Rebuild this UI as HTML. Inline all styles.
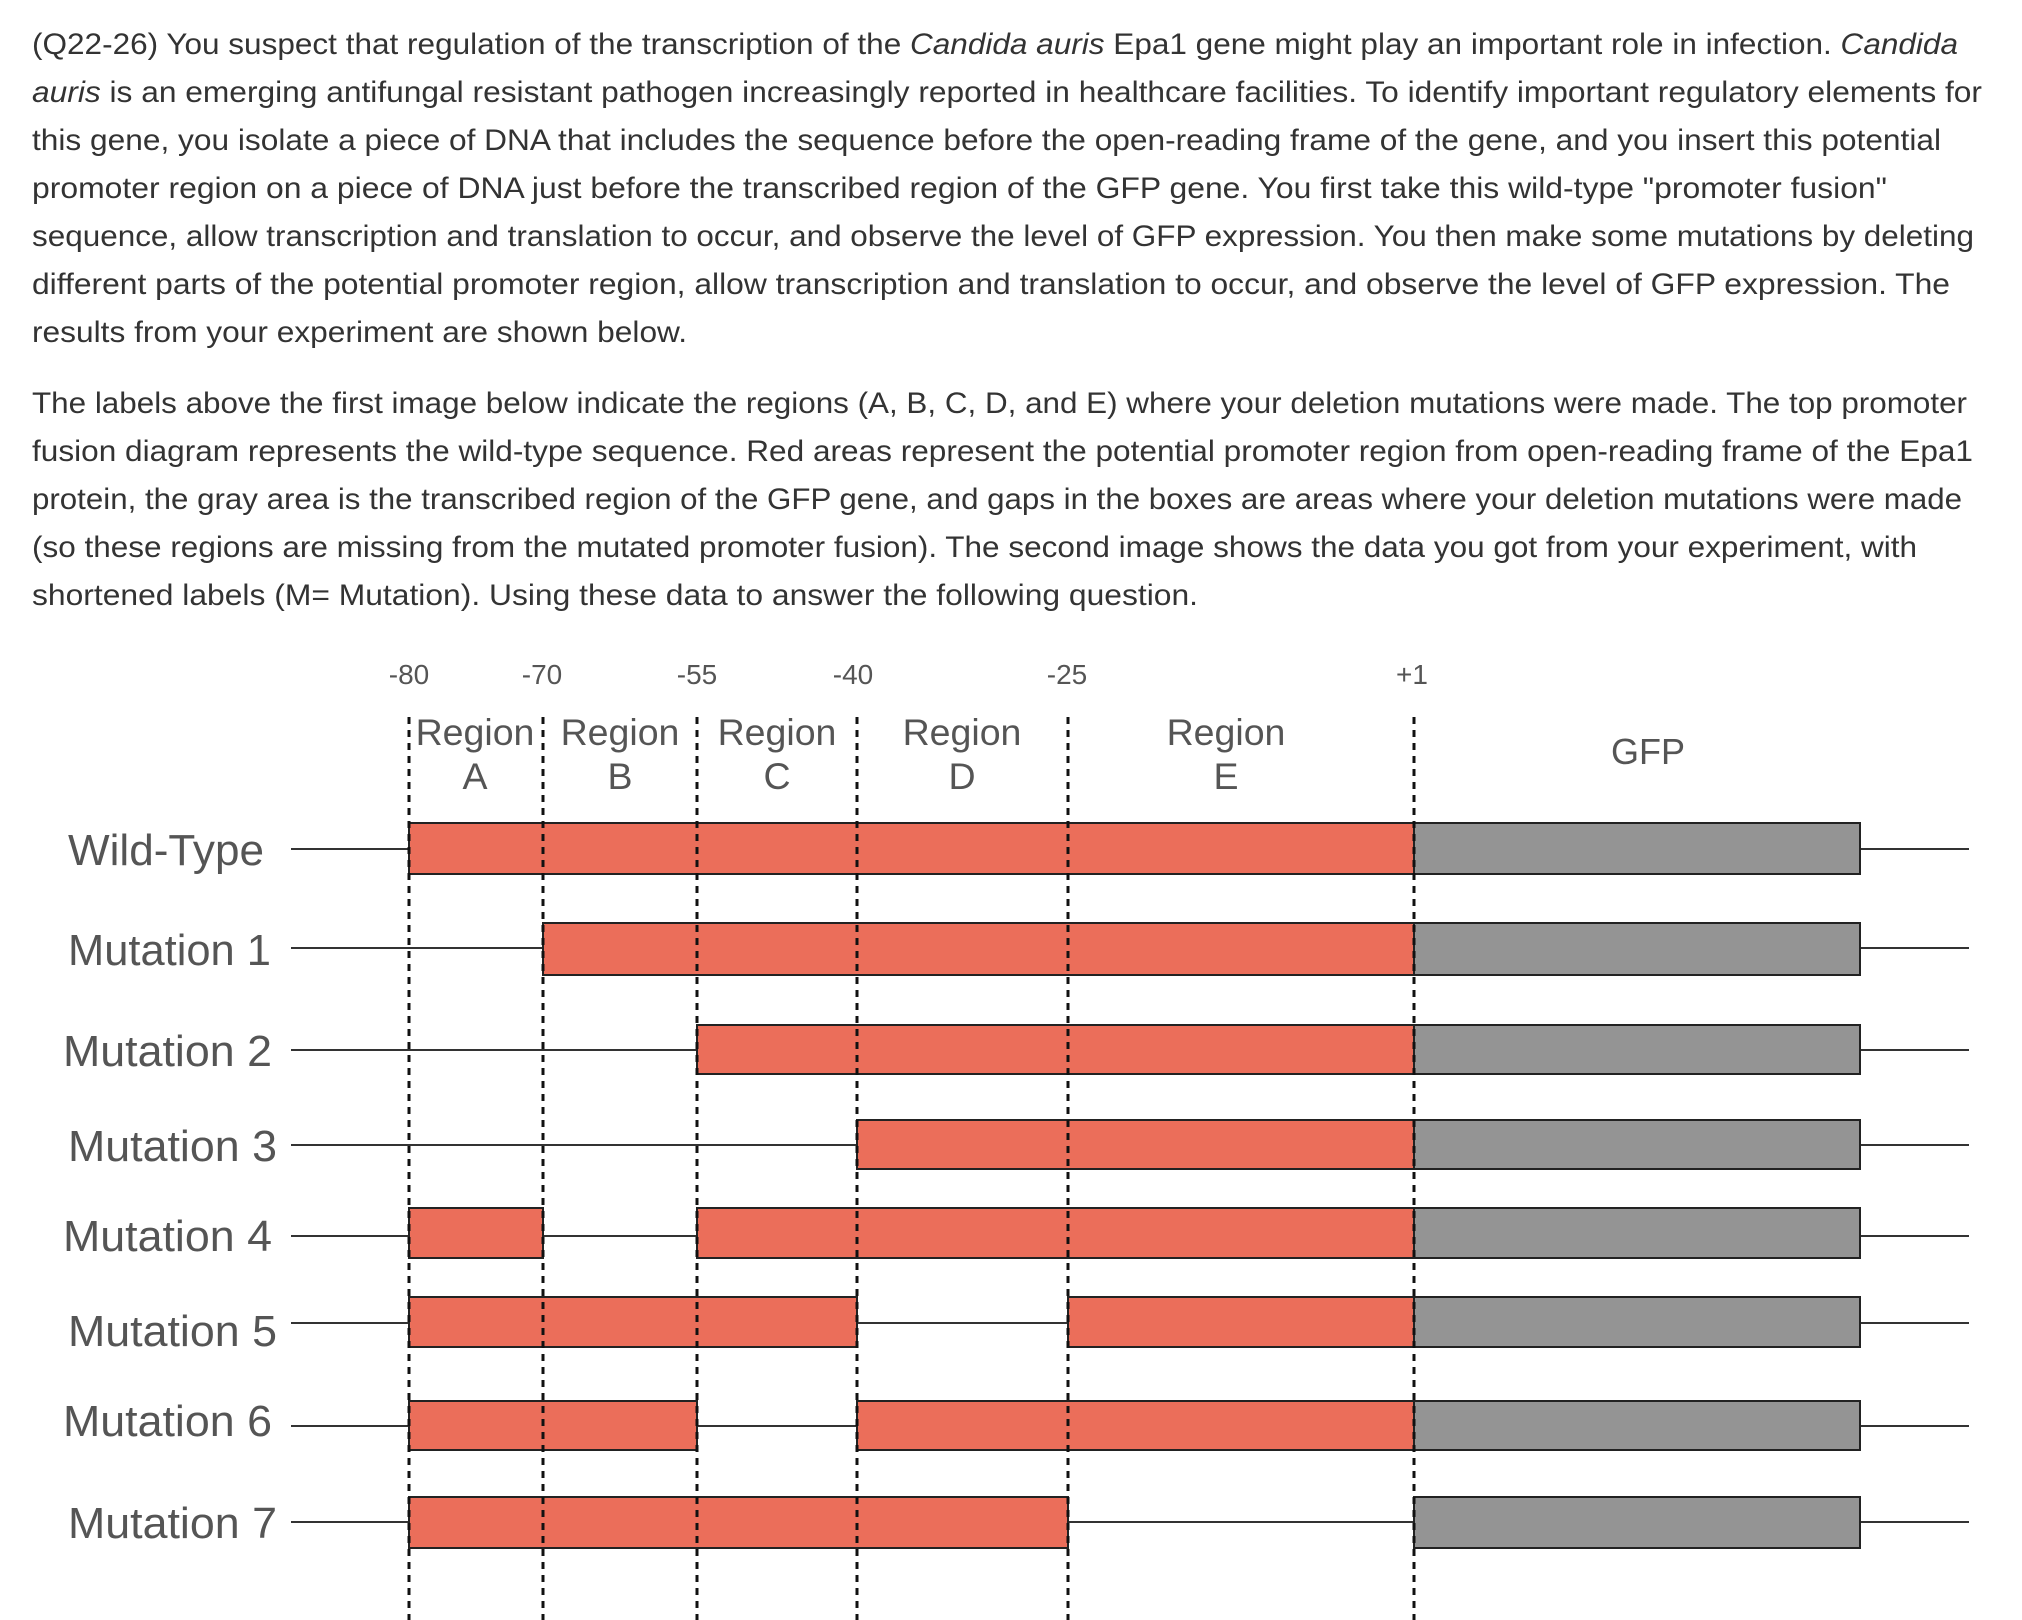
<!DOCTYPE html>
<html>
<head>
<meta charset="utf-8">
<style>
  html,body{margin:0;padding:0;background:#fff;}
  svg{display:block;}
  .p{font-family:"Liberation Sans",Arial,sans-serif;font-size:30px;fill:#333;}
  .d{font-family:"Liberation Sans",Arial,sans-serif;fill:#555;}
</style>
</head>
<body>
<svg width="2022" height="1620" viewBox="0 0 2022 1620" xmlns="http://www.w3.org/2000/svg">
  <rect width="2022" height="1620" fill="#fff"/>
  <!-- Paragraph 1 -->
  <text class="p" x="32" y="54" textLength="1926" lengthAdjust="spacingAndGlyphs">(Q22-26) You suspect that regulation of the transcription of the <tspan font-style="italic">Candida auris</tspan> Epa1 gene might play an important role in infection. <tspan font-style="italic">Candida</tspan></text>
  <text class="p" x="32" y="102" textLength="1950" lengthAdjust="spacingAndGlyphs"><tspan font-style="italic">auris</tspan> is an emerging antifungal resistant pathogen increasingly reported in healthcare facilities. To identify important regulatory elements for</text>
  <text class="p" x="32" y="150" textLength="1909" lengthAdjust="spacingAndGlyphs">this gene, you isolate a piece of DNA that includes the sequence before the open-reading frame of the gene, and you insert this potential</text>
  <text class="p" x="32" y="198" textLength="1855" lengthAdjust="spacingAndGlyphs">promoter region on a piece of DNA just before the transcribed region of the GFP gene. You first take this wild-type "promoter fusion"</text>
  <text class="p" x="32" y="246" textLength="1942" lengthAdjust="spacingAndGlyphs">sequence, allow transcription and translation to occur, and observe the level of GFP expression. You then make some mutations by deleting</text>
  <text class="p" x="32" y="294" textLength="1918" lengthAdjust="spacingAndGlyphs">different parts of the potential promoter region, allow transcription and translation to occur, and observe the level of GFP expression. The</text>
  <text class="p" x="32" y="342" textLength="655" lengthAdjust="spacingAndGlyphs">results from your experiment are shown below.</text>

  <!-- Paragraph 2 -->
  <text class="p" x="32" y="413" textLength="1935" lengthAdjust="spacingAndGlyphs">The labels above the first image below indicate the regions (A, B, C, D, and E) where your deletion mutations were made. The top promoter</text>
  <text class="p" x="32" y="461" textLength="1941" lengthAdjust="spacingAndGlyphs">fusion diagram represents the wild-type sequence. Red areas represent the potential promoter region from open-reading frame of the Epa1</text>
  <text class="p" x="32" y="509" textLength="1930" lengthAdjust="spacingAndGlyphs">protein, the gray area is the transcribed region of the GFP gene, and gaps in the boxes are areas where your deletion mutations were made</text>
  <text class="p" x="32" y="557" textLength="1885" lengthAdjust="spacingAndGlyphs">(so these regions are missing from the mutated promoter fusion). The second image shows the data you got from your experiment, with</text>
  <text class="p" x="32" y="605" textLength="1166" lengthAdjust="spacingAndGlyphs">shortened labels (M= Mutation). Using these data to answer the following question.</text>

  <!-- Tick labels -->
  <g class="d" font-size="28" text-anchor="middle">
    <text x="409" y="684">-80</text>
    <text x="542" y="684">-70</text>
    <text x="697" y="684">-55</text>
    <text x="853" y="684">-40</text>
    <text x="1067" y="684">-25</text>
    <text x="1412" y="684">+1</text>
  </g>

  <!-- Region labels -->
  <g class="d" font-size="37.5" text-anchor="middle">
    <text x="475" y="745">Region</text><text x="475" y="789">A</text>
    <text x="620" y="745">Region</text><text x="620" y="789">B</text>
    <text x="777" y="745">Region</text><text x="777" y="789">C</text>
    <text x="962" y="745">Region</text><text x="962" y="789">D</text>
    <text x="1226" y="745">Region</text><text x="1226" y="789">E</text>
  </g>
  <text class="d" font-size="36" text-anchor="middle" x="1648" y="764">GFP</text>

  <!-- Row labels -->
  <g class="d" font-size="44">
    <text x="68" y="865" textLength="196" lengthAdjust="spacingAndGlyphs">Wild-Type</text>
    <text x="68" y="965" textLength="203" lengthAdjust="spacingAndGlyphs">Mutation 1</text>
    <text x="63" y="1066" textLength="209" lengthAdjust="spacingAndGlyphs">Mutation 2</text>
    <text x="68" y="1161" textLength="209" lengthAdjust="spacingAndGlyphs">Mutation 3</text>
    <text x="63" y="1251" textLength="209" lengthAdjust="spacingAndGlyphs">Mutation 4</text>
    <text x="68" y="1346" textLength="209" lengthAdjust="spacingAndGlyphs">Mutation 5</text>
    <text x="63" y="1436" textLength="209" lengthAdjust="spacingAndGlyphs">Mutation 6</text>
    <text x="68" y="1538" textLength="209" lengthAdjust="spacingAndGlyphs">Mutation 7</text>
  </g>

  <!-- Horizontal DNA lines -->
  <g stroke="#333" stroke-width="2">
    <line x1="291" y1="849" x2="1969" y2="849"/>
    <line x1="291" y1="948" x2="1969" y2="948"/>
    <line x1="291" y1="1050" x2="1969" y2="1050"/>
    <line x1="291" y1="1145" x2="1969" y2="1145"/>
    <line x1="291" y1="1236" x2="1969" y2="1236"/>
    <line x1="291" y1="1323" x2="1969" y2="1323"/>
    <line x1="291" y1="1426" x2="1969" y2="1426"/>
    <line x1="291" y1="1522" x2="1969" y2="1522"/>
  </g>

  <!-- Red promoter boxes -->
  <g fill="#eb6e5a" stroke="#222" stroke-width="2">
    <rect x="409" y="823" width="1005" height="51"/>
    <rect x="543" y="923" width="871" height="52"/>
    <rect x="697" y="1025" width="717" height="49"/>
    <rect x="857" y="1120" width="557" height="49"/>
    <rect x="409" y="1208" width="134" height="50"/>
    <rect x="697" y="1208" width="717" height="50"/>
    <rect x="409" y="1297" width="448" height="50"/>
    <rect x="1068" y="1297" width="346" height="50"/>
    <rect x="409" y="1401" width="288" height="49"/>
    <rect x="857" y="1401" width="557" height="49"/>
    <rect x="409" y="1497" width="659" height="51"/>
  </g>

  <!-- Gray GFP boxes -->
  <g fill="#949494" stroke="#222" stroke-width="2">
    <rect x="1414" y="823" width="446" height="51"/>
    <rect x="1414" y="923" width="446" height="52"/>
    <rect x="1414" y="1025" width="446" height="49"/>
    <rect x="1414" y="1120" width="446" height="49"/>
    <rect x="1414" y="1208" width="446" height="50"/>
    <rect x="1414" y="1297" width="446" height="50"/>
    <rect x="1414" y="1401" width="446" height="49"/>
    <rect x="1414" y="1497" width="446" height="51"/>
  </g>

  <!-- Dashed region boundaries -->
  <g stroke="#111" stroke-width="3" stroke-dasharray="7 6">
    <line x1="409" y1="717" x2="409" y2="1620"/>
    <line x1="543" y1="717" x2="543" y2="1620"/>
    <line x1="697" y1="717" x2="697" y2="1620"/>
    <line x1="857" y1="717" x2="857" y2="1620"/>
    <line x1="1068" y1="717" x2="1068" y2="1620"/>
    <line x1="1414" y1="717" x2="1414" y2="1620"/>
  </g>
</svg>
</body>
</html>
